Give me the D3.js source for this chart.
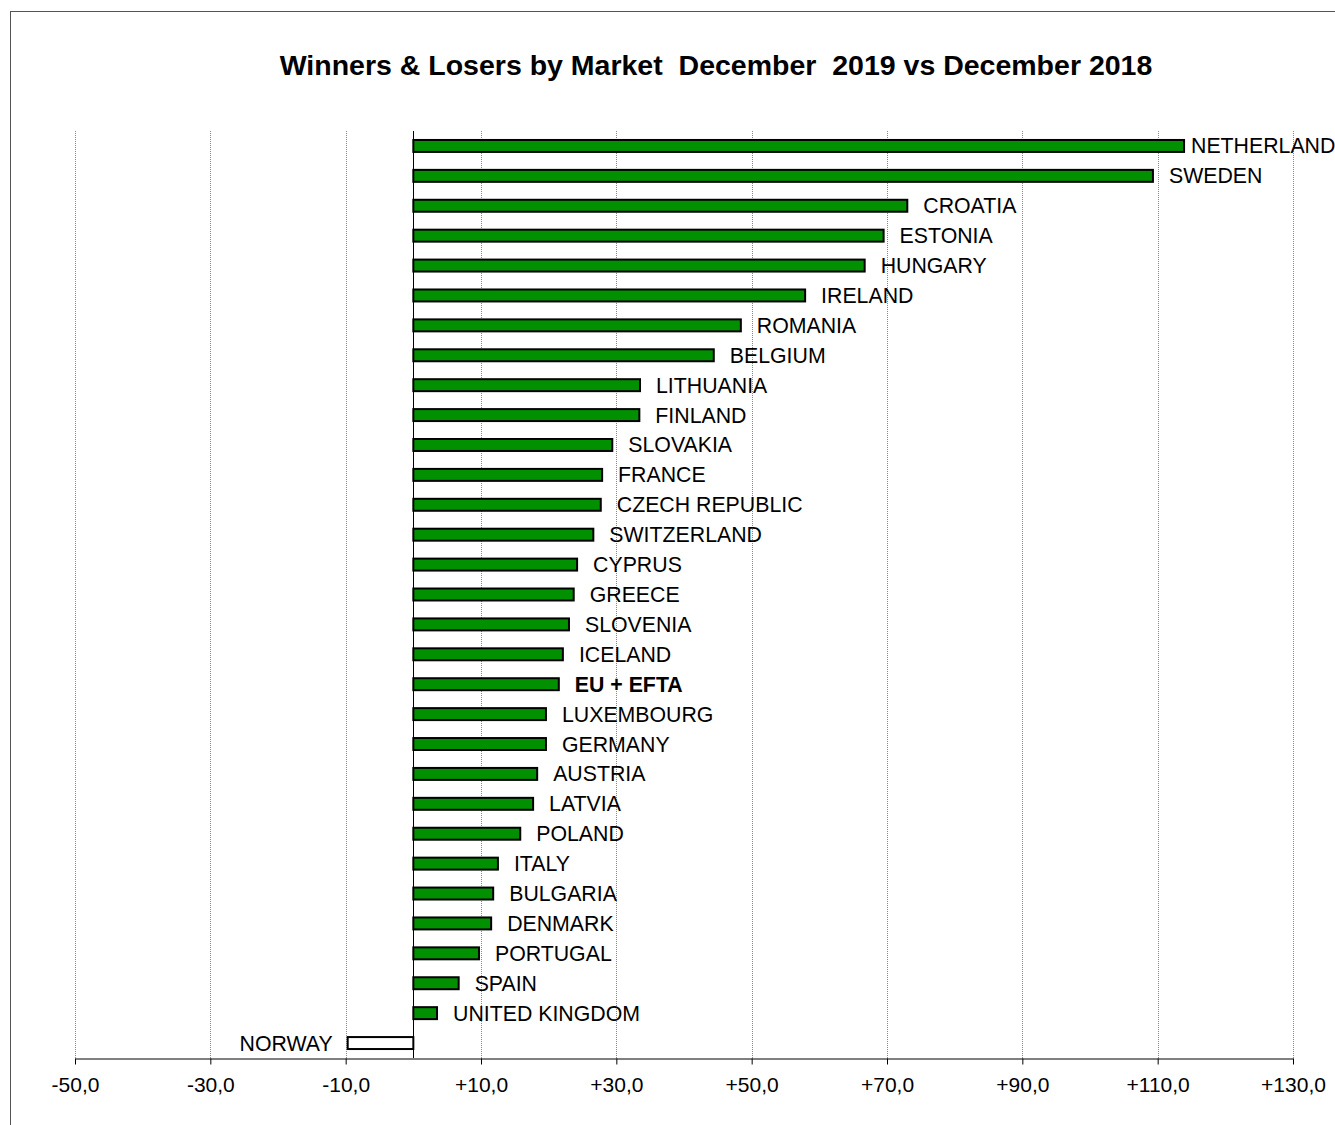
<!DOCTYPE html>
<html><head><meta charset="utf-8">
<script src="https://cdn.jsdelivr.net/npm/d3@7"></script>
<style>body{margin:0;background:#fff;} text{font-family:"Liberation Sans",Arial,sans-serif;}</style>
</head><body>
<svg id="c" width="1335" height="1125"></svg>
<script>
const title = "Winners & Losers by Market  December  2019 vs December 2018";
const countries = ["NETHERLAND","SWEDEN","CROATIA","ESTONIA","HUNGARY","IRELAND","ROMANIA","BELGIUM","LITHUANIA","FINLAND","SLOVAKIA","FRANCE","CZECH REPUBLIC","SWITZERLAND","CYPRUS","GREECE","SLOVENIA","ICELAND","EU + EFTA","LUXEMBOURG","GERMANY","AUSTRIA","LATVIA","POLAND","ITALY","BULGARIA","DENMARK","PORTUGAL","SPAIN","UNITED KINGDOM","NORWAY"];
const values = [113.9,109.3,73.0,69.5,66.7,57.9,48.4,44.4,33.5,33.4,29.4,27.9,27.7,26.6,24.2,23.7,23.0,22.1,21.5,19.6,19.6,18.3,17.7,15.8,12.5,11.8,11.5,9.7,6.7,3.5,-9.7];
const tickValues = [-50,-30,-10,10,30,50,70,90,110,130];
const tickLabels = ["-50,0","-30,0","-10,0","+10,0","+30,0","+50,0","+70,0","+90,0","+110,0","+130,0"];

const svg = d3.select("#c");
svg.append("rect").attr("x",10.5).attr("y",11.5).attr("width",1340).attr("height",1130)
  .attr("fill","none").attr("stroke","#555").attr("stroke-width",1);

svg.append("text").attr("x",716).attr("y",75).attr("text-anchor","middle")
  .attr("font-size",28.5).attr("font-weight","bold").attr("fill","#000").style("white-space","pre")
  .attr("xml:space","preserve").text(title);

const x = d3.scaleLinear().domain([-50,130]).range([75,1293]);
const y = d3.scaleBand().domain(countries).range([131,1058]).paddingInner(0.6).paddingOuter(0.3);

// gridlines
svg.append("g").selectAll("line").data(tickValues).join("line")
  .attr("x1",d=>Math.round(x(d))+0.5).attr("x2",d=>Math.round(x(d))+0.5)
  .attr("y1",131).attr("y2",1058)
  .attr("stroke","#888").attr("stroke-width",1).attr("stroke-dasharray","1,1");

// axis
const ax = svg.append("g").attr("transform","translate(0,1058.5)")
  .call(d3.axisBottom(x).tickValues(tickValues).tickFormat((d,i)=>tickLabels[i]).tickSize(6).tickSizeOuter(0).tickPadding(13));
ax.select(".domain").attr("stroke","#000");
ax.selectAll(".tick line").attr("stroke","#000");
ax.selectAll("text").attr("font-size",21).attr("fill","#000").attr("font-family","Liberation Sans, Arial, sans-serif");

// zero line
svg.append("line").attr("x1",Math.round(x(0))+0.5).attr("x2",Math.round(x(0))+0.5)
  .attr("y1",131).attr("y2",1058).attr("stroke","#000").attr("stroke-width",1);

// bars
svg.append("g").selectAll("rect").data(countries).join("rect")
  .attr("x",(d,i)=>x(Math.min(0,values[i])))
  .attr("y",d=>y(d))
  .attr("width",(d,i)=>Math.abs(x(values[i])-x(0)))
  .attr("height",y.bandwidth())
  .attr("fill",(d,i)=>values[i]<0?"#fff":"#009000")
  .attr("stroke","#000").attr("stroke-width",2);

// labels
svg.append("g").selectAll("text").data(countries).join("text")
  .attr("x",(d,i)=>values[i]<0 ? x(values[i])-15 : Math.min(x(values[i])+16, 1335-144))
  .attr("y",d=>y(d)+y.bandwidth()/2+7.5)
  .attr("text-anchor",(d,i)=>values[i]<0?"end":"start")
  .attr("font-size",21.3).attr("fill","#000")
  .attr("font-weight",d=>d==="EU + EFTA"?"bold":"normal")
  .text(d=>d);
</script>
</body></html>
